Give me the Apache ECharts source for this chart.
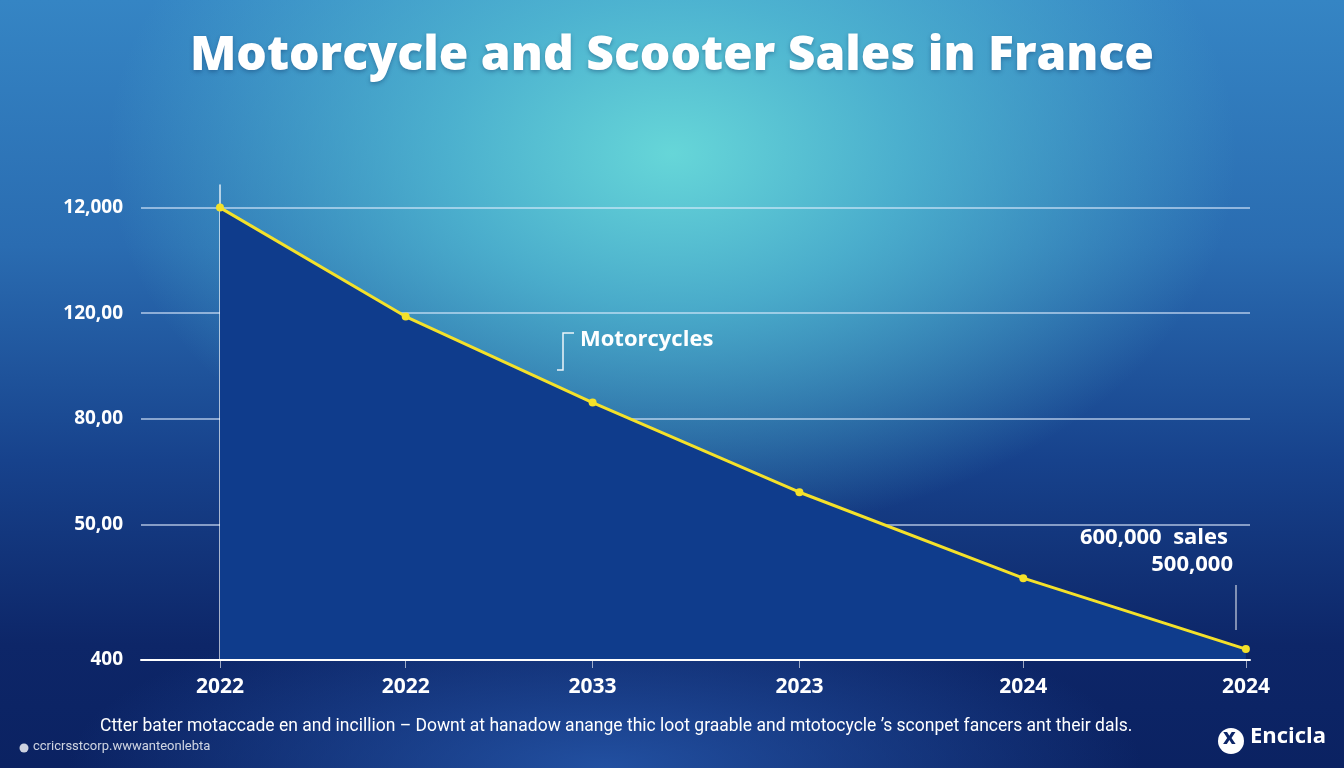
<!DOCTYPE html>
<html>
<head>
<meta charset="utf-8">
<title>Motorcycle and Scooter Sales in France</title>
<script src="https://cdn.jsdelivr.net/npm/echarts@6.0.0/dist/echarts.min.js"></script>
<style>
  html, body { margin: 0; padding: 0; }
  body {
    width: 1344px; height: 768px; overflow: hidden;
    background:
      radial-gradient(ellipse 42% 50% at 50% 20%, rgba(102,214,216,1) 0%, rgba(84,192,212,0.78) 40%, rgba(60,150,200,0) 100%),
      radial-gradient(ellipse 40% 22% at 45% 100%, rgba(38,88,172,0.85) 0%, rgba(38,88,172,0) 100%),
      linear-gradient(180deg, #3585c4 0%, #2a6cb1 32%, #17428c 60%, #0d2668 84%, #0b2262 100%);
  }
  #chart { width: 1344px; height: 768px; }
</style>
</head>
<body>
<div id="chart"></div>
<script>
  // values (y in the chart's own units, 0 = bottom axis)
  const years = ['2022', '2022', '2033', '2023', '2024', '2024']
  const periods = [0, 0.905, 1.816, 2.824, 3.915, 5]
  const sales = [120, 91.1, 68.3, 44.5, 21.7, 2.9]
  const yTicks = [0, 36, 64, 92, 120]
  const yTickLabels = ['400', '50,00', '80,00', '120,00', '12,000']

  const chart = echarts.init(document.getElementById('chart'), null, { renderer: 'canvas' })

  const white = '#ffffff'
  const gridLine = 'rgba(225,238,255,0.75)'
  const bold = { fontFamily: 'Open Sans', fontWeight: 'bold', color: white }

  const option = {
    backgroundColor: 'transparent',
    animation: false,
    title: {
      text: 'Motorcycle and Scooter Sales in France',
      left: 'center',
      top: 27,
      textStyle: {
        fontFamily: 'Open Sans',
        fontWeight: 800,
        fontSize: 48,
        color: white,
        textShadowColor: 'rgba(10,40,90,0.35)',
        textShadowBlur: 4,
        textShadowOffsetY: 2
      }
    },
    grid: { left: 141, right: 94, top: 185, bottom: 108 },
    xAxis: {
      type: 'value',
      min: -0.385,
      max: 5.02,
      z: 4,
      axisLine: { show: true, lineStyle: { color: white, width: 2 } },
      axisTick: { show: true, customValues: periods, length: 8, lineStyle: { color: 'rgba(255,255,255,0.6)', width: 1 } },
      splitLine: { show: false },
      axisLabel: {
        customValues: periods,
        margin: 17,
        fontSize: 21,
        ...bold,
        formatter: (v) => {
          let i = periods.findIndex(p => Math.abs(p - v) < 1e-6)
          return i >= 0 ? years[i] : ''
        }
      }
    },
    yAxis: {
      type: 'value',
      min: 0,
      max: 126,
      axisLine: { show: true, lineStyle: { color: 'rgba(255,255,255,0.85)', width: 1.5 } },
      axisTick: { show: false, customValues: yTicks },
      splitLine: { show: true, lineStyle: { color: gridLine, width: 1.5 } },
      axisLabel: {
        customValues: yTicks,
        margin: 18,
        fontSize: 19,
        ...bold,
        formatter: (v) => {
          let i = yTicks.indexOf(v)
          return i >= 0 ? yTickLabels[i] : ''
        }
      }
    },
    series: [{
      name: 'Motorcycles',
      type: 'line',
      data: periods.map((p, i) => [p, sales[i]]),
      symbol: 'circle',
      symbolSize: 8,
      z: 3,
      itemStyle: { color: '#f4e12a' },
      lineStyle: { color: '#f4e12a', width: 3 },
      areaStyle: { color: '#0f3c8c', opacity: 1 },
      markLine: {
        silent: true,
        symbol: 'none',
        label: { show: false },
        lineStyle: { color: 'rgba(200,220,255,0.35)', width: 1, type: 'solid' },
        data: [[{ coord: [periods[0], sales[0]] }, { coord: [periods[0], -3] }]]
      }
    }],
    graphic: [
      {
        type: 'polyline',
        shape: { points: [[574, 333], [563, 333], [563, 370], [557, 370]] },
        style: { stroke: 'rgba(255,255,255,0.9)', lineWidth: 1.5, fill: null }
      },
      {
        type: 'text', left: 580, top: 329,
        style: { text: 'Motorcycles', font: 'bold 22px "Open Sans"', fill: white }
      },
      {
        type: 'text', right: 116, top: 527,
        style: { text: '600,000  sales', font: 'bold 22px "Open Sans"', fill: white }
      },
      {
        type: 'text', right: 111, top: 554,
        style: { text: '500,000', font: 'bold 22px "Open Sans"', fill: white }
      },
      {
        type: 'line',
        shape: { x1: 1236, y1: 585, x2: 1236, y2: 630 },
        style: { stroke: 'rgba(255,255,255,0.8)', lineWidth: 1.2 }
      },
      {
        type: 'text', left: 100, top: 718,
        style: {
          text: 'Ctter bater motaccade en and incillion \u2013 Downt at hanadow anange thic loot graable and mtotocycle \u2019s sconpet fancers ant their dals.',
          font: '17.5px "Roboto"', fill: white
        }
      },
      {
        type: 'circle', shape: { cx: 24, cy: 748, r: 4.5 },
        style: { fill: 'rgba(255,255,255,0.8)' }
      },
      {
        type: 'text', left: 33, top: 740,
        style: { text: 'ccricrsstcorp.wwwanteonlebta', font: '13px "Roboto"', fill: 'rgba(255,255,255,0.8)' }
      },
      {
        type: 'circle', shape: { cx: 1231, cy: 741, r: 13 },
        style: { fill: white }
      },
      {
        type: 'text', left: 1223, top: 727,
        style: { text: 'x', font: 'bold 22px "Open Sans"', fill: '#0d2668' }
      },
      {
        type: 'text', left: 1250, top: 726,
        style: { text: 'Encicla', font: 'bold 22px "Open Sans"', fill: white }
      }
    ]
  }

  chart.setOption(option)
</script>
</body>
</html>
